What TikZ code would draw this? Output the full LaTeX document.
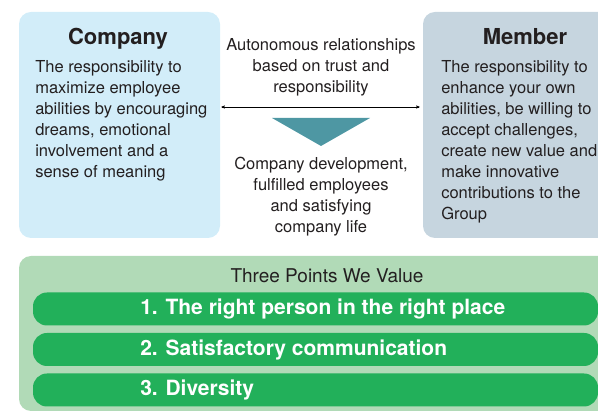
\documentclass[tikz,border=0pt]{standalone}
\usepackage{fontspec}
\setmainfont{TeX Gyre Heros}
\usetikzlibrary{arrows,positioning}
\definecolor{companyblue}{HTML}{D2EDF9}
\definecolor{membergray}{HTML}{C6D5DF}
\definecolor{panelgreen}{HTML}{B1DAB7}
\definecolor{bargreen}{HTML}{22B05A}
\definecolor{arrowteal}{HTML}{4E97A3}
\definecolor{textgray}{HTML}{231F20}

\begin{document}
\begin{tikzpicture}[x=1pt,y=1pt,>=stealth',semithick]
  \tikzstyle{every node}=[text=textgray]
  \tikzstyle{panel}=[rounded corners=12pt, inner sep=0pt]
  \tikzstyle{heading}=[font=\fontsize{22}{26}\selectfont\bfseries, inner sep=0pt, anchor=base]
  \tikzstyle{bodytext}=[font=\fontsize{16.5}{21}\selectfont, inner sep=0pt, anchor=north west, align=left]
  \tikzstyle{midtext}=[font=\fontsize{16.5}{21}\selectfont, inner sep=0pt, align=center]
  \tikzstyle{bar}=[fill=bargreen, rounded corners=14pt, minimum width=565pt, minimum height=33pt, inner sep=0pt]
  \tikzstyle{bartext}=[font=\fontsize{21}{25}\selectfont\bfseries, text=white, inner sep=0pt, anchor=west]

  \useasboundingbox (0,0) rectangle (598,412);
  \clip (0,0) rectangle (598,412);

    \node[panel, fill=companyblue, minimum width=201pt, minimum height=226pt] (company) at (119.5,287) {};
    \node[panel, fill=membergray, minimum width=217pt, minimum height=226pt] (member) at (531.5,287) {};

    \node[heading] (companyhead) at (118,367) {Company};
    \node[bodytext] (companytext) at (35,352) {The responsibility to\\ maximize employee\\ abilities by encouraging\\ dreams, emotional\\ involvement and a\\ sense of meaning};

    \node[heading] (memberhead) at (525,367) {Member};
    \node[bodytext] (membertext) at (441,352) {The responsibility to\\ enhance your own\\ abilities, be willing to\\ accept challenges,\\ create new value and\\ make innovative\\ contributions to the\\ Group};

    \node[midtext] (trust) at (321,345) {Autonomous relationships\\ based on trust and\\ responsibility};
    \node[midtext] (outcome) at (321,215) {Company development,\\ fulfilled employees\\ and satisfying\\ company life};

    \fill[arrowteal] (272,294) -- (370,294) -- (321,266) -- cycle;

    \node[panel, fill=panelgreen, minimum width=621pt, minimum height=155pt] (values) at (329.5,78.5) {};
    \node[midtext, font=\fontsize{19}{23}\selectfont] (valuehead) at (327,136) {Three Points We Value};

    \node[bar] (point1) at (315.5,103) {};
    \node[bar] (point2) at (315.5,62.5) {};
    \node[bar] (point3) at (315.5,22) {};
    \node[bartext] (point1text) at (140,103) {1. The right person in the right place};
    \node[bartext] (point2text) at (140,62.5) {2. Satisfactory communication};
    \node[bartext] (point3text) at (140,22) {3. Diversity};

  \draw[<->, thin, shorten <=1pt, shorten >=3pt] ([yshift=18pt]company.east) -- ([yshift=18pt]member.west);

\end{tikzpicture}
\end{document}
